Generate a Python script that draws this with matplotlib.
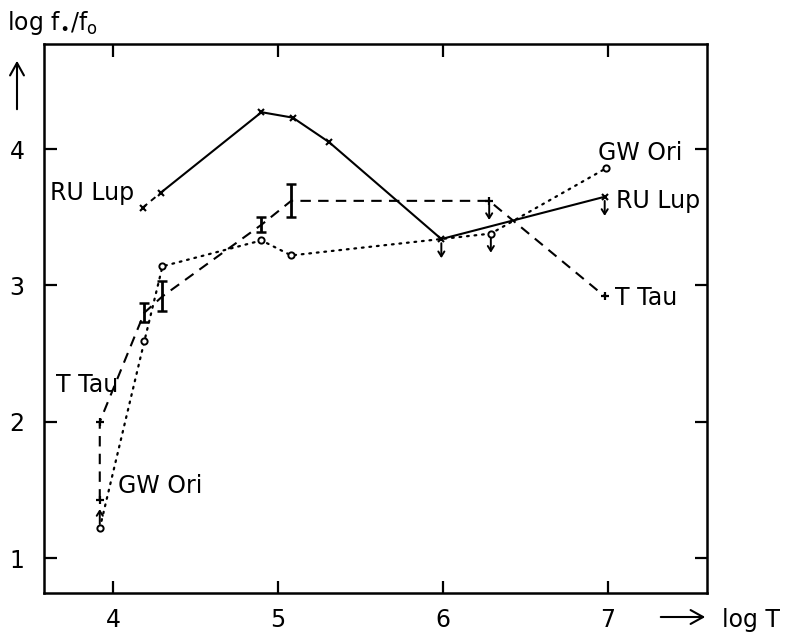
import matplotlib
matplotlib.use('Agg')
import matplotlib.pyplot as plt
from matplotlib.patches import FancyArrowPatch

# ---------------- data ----------------
ru_x = [4.18, 4.29, 4.90, 5.09, 5.31, 5.99, 6.98]
ru_y = [3.57, 3.68, 4.27, 4.23, 4.05, 3.34, 3.65]
ru_upper = [False, False, False, False, False, True, True]

tt_x = [3.92, 3.92, 4.19, 4.30, 4.90, 5.08, 6.28, 6.98]
tt_y = [1.43, 2.00, 2.80, 2.92, 3.445, 3.62, 3.62, 2.92]
tt_err = [0, 0, 0.07, 0.11, 0.055, 0.12, 0, 0]
tt_upper = [False, False, False, False, False, False, True, False]

gw_x = [3.92, 4.19, 4.30, 4.90, 5.08, 6.29, 6.99]
gw_y = [1.22, 2.59, 3.14, 3.33, 3.22, 3.38, 3.86]
gw_lower = [True, False, False, False, False, False, False]
gw_upper = [False, False, False, False, False, True, False]

x_ticks = [4, 5, 6, 7]
y_ticks = [1, 2, 3, 4]

labels = [
    ("RU Lup", 4.13, 3.68, 'right'),
    ("T Tau", 4.03, 2.27, 'right'),
    ("GW Ori", 4.03, 1.53, 'left'),
    ("GW Ori", 6.94, 3.97, 'left'),
    ("RU Lup", 7.05, 3.62, 'left'),
    ("T Tau", 7.04, 2.91, 'left'),
]

# ---------------- figure ----------------
W, H = 785, 639
fig = plt.figure(figsize=(W / 100, H / 100), dpi=100)
ax = fig.add_axes([44 / W, 1 - 593 / H, (707 - 44) / W, (593 - 44) / H])
ax.set_xlim(3.582, 7.6)
ax.set_ylim(0.745, 4.77)

FS = 17
col = 'black'

# RU Lup: solid line with x markers (first short segment dashed)
ax.plot(ru_x[:2], ru_y[:2], color=col, lw=1.4, dashes=(3, 2.5))
ax.plot(ru_x[1:], ru_y[1:], color=col, lw=1.5, ls='-')
ax.plot(ru_x, ru_y, ls='none', marker='x', ms=5, mew=1.5, color=col)

# T Tau: dashed line, + markers and error bars
ax.plot(tt_x, tt_y, color=col, lw=1.5, dashes=(5, 3.5))
for x, y, e in zip(tt_x, tt_y, tt_err):
    if e > 0:
        ax.errorbar([x], [y], yerr=[e], fmt='none', ecolor=col,
                    elinewidth=2, capsize=3.5, capthick=1.8)
    else:
        ax.plot([x], [y], marker='+', ms=6, mew=1.6, color=col)

# GW Ori: dotted line with open circles
ax.plot(gw_x, gw_y, color=col, lw=1.6, ls=(0, (0.8, 2.6)),
        dash_capstyle='round')
ax.plot(gw_x, gw_y, ls='none', marker='o', ms=4.5, mfc='white',
        mec=col, mew=1.4)

# limit arrows
def arrow(x, y, dy):
    ax.annotate('', xy=(x, y + dy), xytext=(x, y),
                arrowprops=dict(arrowstyle='->,head_length=0.35,head_width=0.22',
                                lw=1.4, color=col, shrinkA=3, shrinkB=0))

for x, y, u in zip(ru_x, ru_y, ru_upper):
    if u:
        arrow(x, y, -0.14)
for x, y, u in zip(tt_x, tt_y, tt_upper):
    if u:
        arrow(x, y, -0.14)
for x, y, u, l in zip(gw_x, gw_y, gw_upper, gw_lower):
    if u:
        arrow(x, y, -0.14)
    if l:
        arrow(x, y, 0.14)

for text, x, y, ha in labels:
    ax.text(x, y, text, ha=ha, va='center', fontsize=FS, color=col)

# axes styling
ax.set_xticks(x_ticks)
ax.set_yticks(y_ticks)
ax.set_xticklabels([str(v) for v in x_ticks])
ax.set_yticklabels([str(v) for v in y_ticks])
ax.tick_params(direction='in', length=9, width=1.6, labelsize=FS,
               top=True, right=True, pad=11)
ax.tick_params(axis='y', pad=14)
for s in ax.spines.values():
    s.set_linewidth(1.8)

# axis titles
fig.text(7 / W, 1 - 30 / H, r'log f$_{\bullet}$/f$_{\mathrm{o}}$', fontsize=FS,
         ha='left', va='baseline')
fig.patches.append(FancyArrowPatch(
    (17 / W, 1 - 112 / H), (17 / W, 1 - 58 / H), transform=fig.transFigure,
    arrowstyle='->,head_length=0.45,head_width=0.25', mutation_scale=20,
    lw=1.5, color=col))
fig.patches.append(FancyArrowPatch(
    (658 / W, 1 - 617 / H), (708 / W, 1 - 617 / H), transform=fig.transFigure,
    arrowstyle='->,head_length=0.45,head_width=0.25', mutation_scale=20,
    lw=1.5, color=col))
fig.text(722 / W, 1 - 627 / H, 'log T', fontsize=FS, ha='left', va='baseline')

fig.savefig('out.png', dpi=100, facecolor='white')
